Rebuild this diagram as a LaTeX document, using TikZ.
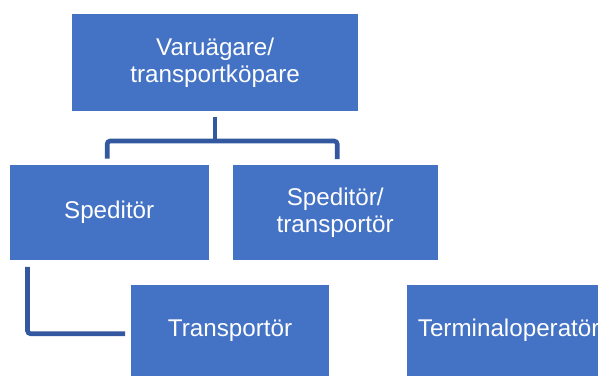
\documentclass[tikz,border=0pt]{standalone}
\usepackage{fontspec}
\setmainfont{Liberation Sans}
\definecolor{boxblue}{HTML}{4472C4}
\definecolor{linkblue}{HTML}{3458A0}

\begin{document}
\begin{tikzpicture}[
  x=1pt,
  y=-1pt,
  every node/.style={font=\fontsize{24.2}{26.5}\selectfont},
  role/.style={fill=boxblue, text=white, align=center, inner sep=0pt, anchor=north west},
  conn/.style={linkblue, line width=4.6pt, rounded corners=3pt}
]
  \clip (0,0) rectangle (598,376);

  \node[role, minimum width=286pt, minimum height=96.7pt] (owner) at (72,14) {Varuägare/\\transportköpare};
  \node[role, minimum width=199pt, minimum height=95.5pt] (spd) at (9.5,164.5) {Speditör};
  \node[role, minimum width=205.4pt, minimum height=95pt] (spt) at (232.3,165) {Speditör/\\transportör};
  \node[role, minimum width=198.3pt, minimum height=91pt] (trp) at (130.7,285) {Transportör};
  \node[role, minimum width=203pt, minimum height=91pt] (term) at (407,285) {Terminaloperatör};

  \coordinate (fork) at (215,141);
  \draw[conn] ([yshift=-5.5pt]owner.south -| fork) -- (fork);
  \draw[conn] ([xshift=-2pt,yshift=6pt]spd.north) |- (fork) -| ([xshift=2pt,yshift=6pt]spt.north);
  \draw[conn] ([xshift=18pt,yshift=-6.5pt]spd.south west) |- ([xshift=-5.5pt,yshift=-3pt]trp.west);
\end{tikzpicture}
\end{document}
